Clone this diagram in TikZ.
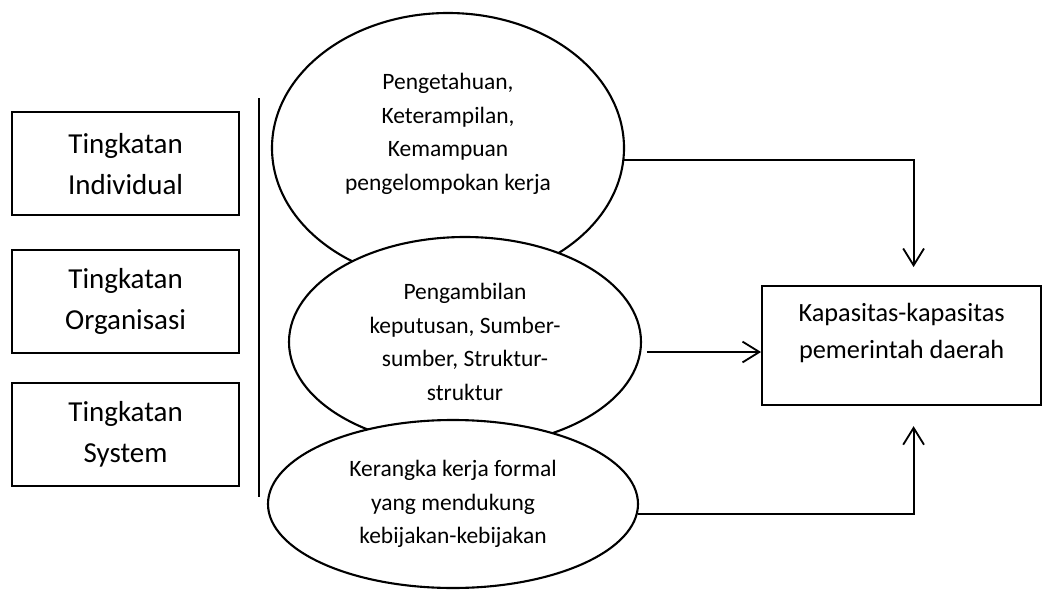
\documentclass[tikz,border=0pt]{standalone}
\usepackage{fontspec}
\setmainfont{Carlito}
\usetikzlibrary{shapes.geometric,arrows.meta}

\begin{document}
\begin{tikzpicture}[
    level/.style={draw,line width=1.5pt,fill=white,minimum width=5.675cm,minimum height=2.575cm,align=center,font=\fontsize{20.6}{29.2}\selectfont},
    oval/.style={ellipse,draw,line width=1.5pt,fill=white,inner sep=0pt,align=center,font=\fontsize{16.7}{23.8}\selectfont},
    arr/.style={line width=1.3pt,-{Straight Barb[length=0.42cm,width=0.52cm,line width=1.3pt]}}]
        \useasboundingbox (0,0) rectangle (26.175,-14.75);

        \node[level] (ind) at (3.14,-4.09) {Tingkatan\\Individual};
        \node[level] (org) at (3.14,-7.53) {Tingkatan\\Organisasi};
        \node[level] (sys) at (3.14,-10.86) {Tingkatan\\System};
        \draw[line width=1pt] (6.475,-2.45)--(6.475,-12.425);

        \node[oval,minimum width=8.8cm,minimum height=6.75cm,text depth=0.8cm] (skill) at (11.2,-3.7) {Pengetahuan,\\Keterampilan,\\Kemampuan\\pengelompokan kerja};
        \node[oval,minimum width=8.8cm,minimum height=5.25cm] (res) at (11.625,-8.55) {Pengambilan\\keputusan, Sumber-\\sumber, Struktur-\\struktur};
        \node[oval,minimum width=9.25cm,minimum height=4.2cm] (frame) at (11.325,-12.6) {Kerangka kerja formal\\yang mendukung\\kebijakan-kebijakan};

        \node[draw,line width=1.5pt,minimum width=6.975cm,minimum height=2.975cm,align=center,text depth=0.72cm,font=\fontsize{18.7}{26.3}\selectfont] (cap) at (22.54,-8.64) {Kapasitas-kapasitas\\pemerintah daerah};

        \coordinate (topin) at ([xshift=0.3cm,yshift=0.45cm]cap.north);
        \coordinate (botin) at ([xshift=0.3cm,yshift=-0.5cm]cap.south);
        \draw[arr] (skill.-4) -| (topin);
        \draw[arr] ([xshift=0.12cm,yshift=-0.25cm]res.east) -- ([yshift=-0.25cm]res.east -| cap.west);
        \draw[arr] (frame.-3) -| (botin);
\end{tikzpicture}
\end{document}
